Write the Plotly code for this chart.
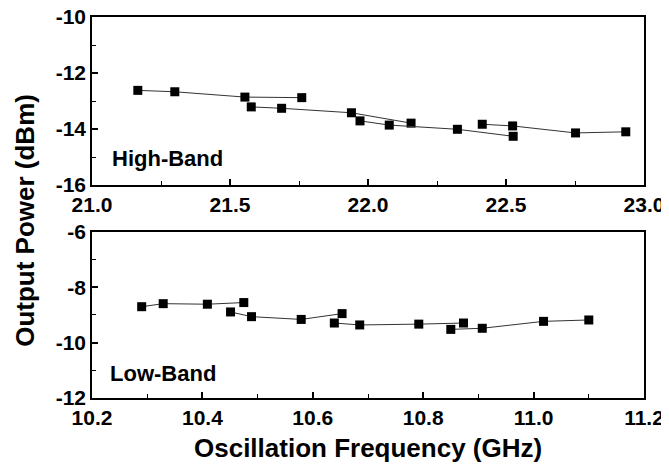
import plotly.graph_objects as go

# high-band sweeps (GHz, dBm)
hb_f = [[21.166, 21.30, 21.554, 21.76],
        [21.577, 21.687, 21.94, 22.156],
        [21.971, 22.077, 22.324, 22.526],
        [22.414, 22.524, 22.752, 22.934]]
hb_p = [[-12.62, -12.67, -12.86, -12.88],
        [-13.21, -13.26, -13.42, -13.79],
        [-13.71, -13.86, -14.01, -14.26],
        [-13.83, -13.89, -14.14, -14.10]]

# low-band sweeps
lb_f = [[10.290, 10.329, 10.409, 10.475],
        [10.451, 10.489, 10.579, 10.653],
        [10.639, 10.685, 10.792, 10.873],
        [10.850, 10.907, 11.018, 11.100]]
lb_p = [[-8.70, -8.59, -8.61, -8.55],
        [-8.89, -9.06, -9.16, -8.95],
        [-9.29, -9.36, -9.33, -9.29],
        [-9.52, -9.48, -9.23, -9.18]]

hb_xticks = [21.0, 21.5, 22.0, 22.5, 23.0]
lb_xticks = [10.2, 10.4, 10.6, 10.8, 11.0, 11.2]
hb_yticks = [-16, -14, -12, -10]
lb_yticks = [-12, -10, -8, -6]

FONT = "Liberation Sans"
mk = dict(symbol="square", size=9, color="black")
ln = dict(color="#333333", width=1)

fig = go.Figure()
for f, p in zip(hb_f, hb_p):
    fig.add_trace(go.Scatter(x=f, y=p, mode="lines+markers", marker=mk, line=ln,
                             xaxis="x", yaxis="y", showlegend=False))
for f, p in zip(lb_f, lb_p):
    fig.add_trace(go.Scatter(x=f, y=p, mode="lines+markers", marker=mk, line=ln,
                             xaxis="x2", yaxis="y2", showlegend=False))

axis_common = dict(showline=True, linecolor="black", linewidth=1.5, mirror=True,
                   ticks="inside", ticklen=6, tickwidth=1.5, tickcolor="black",
                   showgrid=False, zeroline=False, tickmode="array", automargin=False,
                   ticklabeloverflow="allow",
                   tickfont=dict(family=FONT, size=21, color="black"),
                   minor=dict(ticks="inside", ticklen=4, tickwidth=1.2, tickcolor="black"))


def bold(vals, fmt):
    return ["<b>" + fmt.format(v) + "</b>" for v in vals]


# page body has an 8px margin, so margins are shifted up/left by 8
fig.update_layout(
    width=669, height=470,
    margin=dict(l=84, r=33, t=9, b=80, autoexpand=False),
    paper_bgcolor="white", plot_bgcolor="white",
    xaxis=dict(domain=[0, 1], anchor="y", range=[21.0, 23.0],
               tickvals=hb_xticks, ticktext=bold(hb_xticks, "{:.1f}"),
               minor_dtick=0.25, minor_tick0=21, **axis_common),
    yaxis=dict(domain=[0.559, 1], anchor="x", range=[-16, -10],
               tickvals=hb_yticks, ticktext=bold(hb_yticks, "{:d}"),
               minor_dtick=1, minor_tick0=-16, **axis_common),
    xaxis2=dict(domain=[0, 1], anchor="y2", range=[10.2, 11.2],
                tickvals=lb_xticks, ticktext=bold(lb_xticks, "{:.1f}"),
                minor_dtick=0.1, minor_tick0=10.2, **axis_common),
    yaxis2=dict(domain=[0, 0.4357], anchor="x2", range=[-12, -6],
                tickvals=lb_yticks, ticktext=bold(lb_yticks, "{:d}"),
                minor_dtick=1, minor_tick0=-12, **axis_common),
)

title_font = dict(family=FONT, size=26, color="black")
band_font = dict(family=FONT, size=22, color="black")
fig.add_annotation(text="<b>High-Band</b>", x=21.065, y=-15.04, xref="x", yref="y",
                   xanchor="left", yanchor="middle", showarrow=False, font=band_font)
fig.add_annotation(text="<b>Low-Band</b>", x=10.229, y=-11.13, xref="x2", yref="y2",
                   xanchor="left", yanchor="middle", showarrow=False, font=band_font)
fig.add_annotation(text="<b>Output Power (dBm)</b>", x=0, xshift=-67, y=0.465,
                   xref="paper", yref="paper", textangle=-90, showarrow=False,
                   xanchor="center", yanchor="middle", font=title_font)
fig.add_annotation(text="<b>Oscillation Frequency (GHz)</b>", x=0.5, y=-0.13,
                   xref="paper", yref="paper", showarrow=False,
                   xanchor="center", yanchor="middle", font=title_font)

fig.write_html("out.html")
